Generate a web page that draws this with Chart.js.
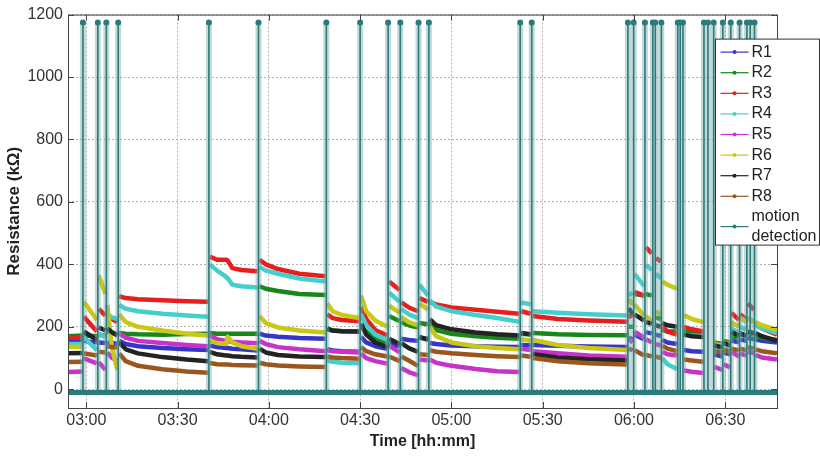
<!DOCTYPE html>
<html>
<head>
<meta charset="utf-8">
<script src="https://cdn.jsdelivr.net/npm/chart.js@4.4.1/dist/chart.umd.min.js"></script>
<style>
  html, body { margin: 0; padding: 0; background: #fff; }
  #wrap { width: 820px; height: 456px; }
</style>
</head>
<body>
<div id="wrap"><canvas id="chart" width="820" height="456"></canvas></div>
<script>
// time in minutes after midnight; each segment ends with a gap point (null) at a motion event
const times = [
  174, 178.6, 178.9,
  179.2, 183.5, 183.8,
  184.1, 186.3, 186.6,
  186.9, 188.5, 190.2, 190.5,
  190.8, 193, 197, 205, 213, 220, 220.3,
  220.6, 223, 226, 226.5, 228, 231, 236.3, 236.6,
  236.9, 239, 243, 250, 258.6, 258.9,
  259.2, 261, 264, 269.7, 270,
  270.3, 272, 275, 278.9, 279.2,
  279.5, 283, 283.2,
  283.5, 286, 289, 289.2,
  289.5, 292.3, 292.6,
  292.9, 295, 300, 308, 315, 322.3, 322.6,
  322.9, 326.1, 326.4,
  326.7, 335, 345, 357.7, 358,
  358.3, 359.6, 359.9,
  360.2, 363.3, 363.6,
  363.9, 365.9, 366.2,
  367.2, 368.8, 369,
  369.3, 371, 374.1, 374.4,
  376.4, 379, 382.7, 383,
  386.4, 389, 389.2,
  389.4, 391.6, 391.8,
  392, 394.5, 394.7,
  394.9, 396.9, 397.1,
  397.4, 399.4, 399.6,
  399.9, 402, 407
];

const R1 = [
  153, 152, null, 155, 150, null, 150, 148, null, 150, 148, 146, null,
  155, 145, 138, 132, 128, 126, null,
  140, 135, 132, 132, 130, 128, 124, null,
  178, 172, 168, 164, 162, null,
  128, 124, 122, 120, null,
  168, 150, 138, 130, null,
  145, 138, null, 162, 158, 155, null, 165, 162, null,
  148, 145, 140, 138, 136, 135, null,
  142, 140, null, 142, 139, 137, 135, null,
  165, 160, null, 175, 160, null, 183, 178, null, 175, 170, null,
  158, 150, 145, null, 126, 122, 120, null,
  112, 105, null, 118, 112, null, 156, 150, null, 160, 155, null, 165, 160, null,
  160, 155, 150
];
const R2 = [
  170, 172, null, 172, 170, null, 175, 172, null, 185, 180, 178, null,
  180, 178, 176, 175, 177, 178, null,
  180, 178, 178, 178, 178, 178, 178, null,
  330, 322, 315, 305, 302, null,
  192, 188, 186, 185, null,
  200, 185, 165, 150, null,
  235, 218, null, 215, 205, 198, null, 212, 208, null,
  210, 190, 178, 170, 165, 162, null,
  178, 175, null, 180, 176, 174, 173, null,
  200, 200, null, 305, 300, null, 305, 300, null, 230, 225, null,
  190, 185, 185, null, 185, 182, 180, null,
  150, 145, null, 155, 150, null, 170, 165, null, 175, 170, null, 180, 175, null,
  170, 165, 158
];
const R3 = [
  165, 165, null, 232, 185, null, 258, 236, null, 240, 225, 215, null,
  298, 292, 288, 285, 282, 280, null,
  425, 415, 415, 412, 388, 382, 378, null,
  415, 400, 385, 370, 362, null,
  240, 228, 222, 218, null,
  265, 225, 190, 172, null,
  345, 318, null, 278, 262, 250, null, 292, 280, null,
  280, 272, 262, 255, 248, 242, null,
  250, 242, null, 235, 225, 220, 216, null,
  230, 240, null, 312, 300, null, 455, 435, null, 420, 410, null,
  200, 185, 175, null, 200, 192, 185, null,
  135, 125, null, 140, 130, null, 245, 222, null, 240, 225, null, 275, 255, null,
  215, 195, 175
];
const R4 = [
  145, 145, null, 167, 125, null, 178, 167, null, 240, 230, 225, null,
  270, 258, 250, 242, 236, 232, null,
  400, 380, 360, 355, 335, 330, 326, null,
  392, 380, 370, 355, 345, null,
  92, 88, 85, 83, null,
  240, 205, 175, 158, null,
  310, 280, null, 258, 240, 228, null, 335, 300, null,
  285, 265, 250, 238, 228, 216, null,
  278, 272, null, 250, 245, 240, 236, null,
  300, 310, null, 370, 330, null, 398, 382, null, 370, 355, null,
  100, 80, 65, null, 175, 172, 170, null,
  130, 125, null, 140, 135, null, 195, 180, null, 200, 190, null, 230, 215, null,
  205, 195, 180
];
const R5 = [
  55, 57, null, 99, 83, null, 87, 62, null, 118, 100, 92, null,
  178, 165, 155, 148, 142, 138, null,
  172, 160, 155, 154, 152, 150, 147, null,
  155, 145, 135, 128, 122, null,
  125, 122, 120, 118, null,
  115, 100, 90, 82, null,
  140, 118, null, 68, 55, 45, null, 95, 92, null,
  95, 85, 75, 65, 58, 55, null,
  130, 126, null, 122, 115, 108, 104, null,
  160, 150, null, 185, 165, null, 160, 150, null, 145, 140, null,
  120, 112, 108, null, 60, 56, 52, null,
  72, 62, null, 80, 70, null, 120, 105, null, 115, 108, null, 120, 115, null,
  110, 102, 95
];
const R6 = [
  135, 136, null, 280, 222, null, 365, 305, null, 270, 130, 62, null,
  240, 215, 200, 188, 178, 172, null,
  155, 148, 145, 168, 150, 138, 130, null,
  235, 212, 198, 188, 182, null,
  275, 250, 238, 228, null,
  300, 250, 220, 200, null,
  268, 245, null, 232, 215, 205, null, 275, 255, null,
  200, 170, 150, 138, 132, 128, null,
  160, 155, null, 158, 142, 132, 126, null,
  290, 270, null, 272, 235, null, 235, 215, null, 250, 240, null,
  345, 335, 322, null, 238, 225, 215, null,
  145, 140, null, 150, 145, null, 215, 200, null, 230, 215, null, 225, 215, null,
  215, 205, 190
];
const R7 = [
  115, 116, null, 185, 158, null, 198, 188, null, 195, 182, 172, null,
  150, 128, 115, 103, 95, 90, null,
  120, 112, 108, 108, 106, 104, 102, null,
  130, 118, 110, 105, 103, null,
  195, 188, 186, 185, null,
  210, 175, 150, 135, null,
  162, 145, null, 148, 132, 120, null, 168, 158, null,
  225, 205, 192, 182, 176, 172, null,
  180, 176, null, 112, 102, 96, 92, null,
  260, 240, null, 240, 220, null, 215, 210, null, 205, 200, null,
  212, 205, 200, null, 175, 170, 167, null,
  140, 135, null, 150, 140, null, 183, 172, null, 180, 172, null, 185, 180, null,
  180, 170, 155
];
const R8 = [
  87, 88, null, 115, 108, null, 120, 118, null, 138, 135, 134, null,
  115, 90, 75, 64, 57, 53, null,
  84, 80, 79, 79, 78, 77, 76, null,
  85, 80, 76, 73, 71, null,
  105, 102, 100, 98, null,
  135, 122, 112, 105, null,
  105, 90, null, 105, 92, 75, null, 112, 110, null,
  125, 120, 115, 110, 106, 103, null,
  108, 104, null, 100, 90, 83, 79, null,
  130, 125, null, 125, 108, null, 110, 105, null, 105, 100, null,
  140, 130, 122, null, 95, 92, 88, null,
  122, 118, null, 125, 120, null, 130, 124, null, 130, 125, null, 135, 130, null,
  128, 122, 115
];

// motion detection events (minutes) and the two levels the detector switches between
const motionEvents = [
  178.9, 183.8, 186.6, 190.5, 220.3, 236.6, 258.9, 270.0, 279.2, 283.2, 289.2, 292.6,
  322.6, 326.4, 358.0, 359.9, 363.6, 366.2, 367.0, 369.0, 374.4, 375.2, 376.1,
  383.0, 384.3, 386.2, 389.2, 391.8, 394.7, 397.1, 398.2, 399.6
];
const motionLow = -10;
const motionHigh = 1175;

const seriesNames = ["R1", "R2", "R3", "R4", "R5", "R6", "R7", "R8"];
const seriesColors = ["#3535c8", "#17871a", "#e61e1e", "#45cfcc", "#c832c8", "#c9c814", "#232323", "#9a561c"];
const xTicks = [180, 210, 240, 270, 300, 330, 360, 390];
const yTicks = [0, 200, 400, 600, 800, 1000, 1200];

const FONT = "'Liberation Sans', Arial, Helvetica, sans-serif";
const teal = "#2b7b7b";

const hhmm = (v) => String(Math.floor(v / 60)).padStart(2, "0") + ":" + String(v % 60).padStart(2, "0");

const seriesData = [R1, R2, R3, R4, R5, R6, R7, R8];
const datasets = seriesData.map((values, i) => ({
  label: seriesNames[i],
  data: times.map((t, k) => ({ x: t, y: values[k] })),
  borderColor: seriesColors[i],
  borderWidth: 4.5,
  pointRadius: 0,
  spanGaps: false,
  order: 10 - i,
}));

const motionLine = [{ x: 174, y: motionLow }];
motionEvents.forEach((t) => motionLine.push({ x: t, y: motionLow }, { x: t, y: motionHigh }, { x: t, y: motionLow }));
motionLine.push({ x: 407, y: motionLow });

datasets.push({
  label: "motion detection",
  data: motionLine,
  borderColor: teal,
  backgroundColor: teal,
  borderWidth: 1.6,
  pointRadius: (ctx) => (ctx.raw && ctx.raw.y === motionHigh ? 2.2 : 0),
  order: 0,
});
datasets.push({
  label: "band",
  data: motionEvents.flatMap((t) => [{ x: t, y: motionLow }, { x: t, y: motionHigh }, { x: t, y: null }]),
  borderColor: "rgba(120,168,168,0.45)",
  borderWidth: 6,
  pointRadius: 0,
  spanGaps: false,
  order: 1,
});
datasets.push({
  label: "base",
  data: [{ x: 174, y: motionLow }, { x: 407, y: motionLow }],
  borderColor: teal,
  borderWidth: 5,
  pointRadius: 0,
  order: 0,
});

const frame = {
  id: "frame",
  afterDraw(chart) {
    const { ctx, chartArea: a, scales } = chart;
    ctx.save();
    ctx.strokeStyle = "#444";
    ctx.lineWidth = 1;
    ctx.strokeRect(a.left + 0.5, a.top + 0.5, a.right - a.left, a.bottom - a.top);
    ctx.beginPath();
    xTicks.forEach((v) => {
      const x = Math.round(scales.x.getPixelForValue(v)) + 0.5;
      ctx.moveTo(x, a.bottom); ctx.lineTo(x, a.bottom - 6);
      ctx.moveTo(x, a.top); ctx.lineTo(x, a.top + 6);
    });
    yTicks.forEach((v) => {
      const y = Math.round(scales.y.getPixelForValue(v)) + 0.5;
      ctx.moveTo(a.left, y); ctx.lineTo(a.left + 6, y);
      ctx.moveTo(a.right, y); ctx.lineTo(a.right - 6, y);
    });
    ctx.stroke();

    // legend box, top right, overlapping the plot like the original
    const bx = a.right - 61.5, by = a.top + 24.5, bw = 104, bh = 206;
    ctx.fillStyle = "#fff";
    ctx.fillRect(bx, by, bw, bh);
    ctx.strokeStyle = "#333";
    ctx.strokeRect(bx, by, bw, bh);
    ctx.font = "16px " + FONT;
    ctx.textBaseline = "middle";
    const rows = seriesNames.map((name, i) => ({ name, color: seriesColors[i], y: by + 13 + i * 20.6 }));
    rows.push({ name: "motion", color: teal, y: by + 187.5, text2: "detection" });
    rows.forEach((r) => {
      const ly = r.y;
      ctx.strokeStyle = r.color;
      ctx.lineWidth = 1.2;
      ctx.beginPath();
      ctx.moveTo(bx + 5, ly); ctx.lineTo(bx + 33, ly);
      ctx.stroke();
      ctx.fillStyle = r.color;
      ctx.beginPath();
      ctx.arc(bx + 19, ly, 2, 0, Math.PI * 2);
      ctx.fill();
      ctx.fillStyle = "#222";
      if (r.text2) {
        ctx.fillText(r.name, bx + 36, ly - 10);
        ctx.fillText(r.text2, bx + 36, ly + 10);
      } else {
        ctx.fillText(r.name, bx + 36, ly);
      }
    });
    ctx.restore();
  },
};

Chart.defaults.font.family = FONT;

new Chart(document.getElementById("chart"), {
  type: "line",
  data: { datasets },
  options: {
    responsive: false,
    animation: false,
    parsing: false,
    layout: { padding: { top: 13, right: 43, left: 0, bottom: 0 } },
    plugins: { legend: { display: false }, tooltip: { enabled: false } },
    elements: { line: { borderJoinStyle: "round", tension: 0 } },
    scales: {
      x: {
        type: "linear",
        min: 174,
        max: 407,
        afterBuildTicks: (scale) => { scale.ticks = xTicks.map((v) => ({ value: v })); },
        afterFit: (scale) => { scale.height = 48; },
        ticks: { callback: (v) => hhmm(v), color: "#333", font: { size: 16 }, padding: 3, maxRotation: 0, autoSkip: false },
        grid: { color: "#b0b0b0", drawTicks: false },
        border: { display: false, dash: [2, 2] },
        title: { display: true, text: "Time [hh:mm]", color: "#222", font: { size: 16, weight: "bold" }, padding: { top: 0, bottom: 5 } },
      },
      y: {
        min: -60,
        max: 1200,
        afterBuildTicks: (scale) => { scale.ticks = yTicks.map((v) => ({ value: v })); },
        afterFit: (scale) => { scale.width = 68; },
        ticks: { callback: (v) => String(v), color: "#333", font: { size: 16 }, padding: 5 },
        grid: { color: "#b0b0b0", drawTicks: false },
        border: { display: false, dash: [2, 2] },
        title: { display: true, text: "Resistance (kΩ)", color: "#222", font: { size: 17, weight: "bold" }, padding: { top: 4, bottom: 0 } },
      },
    },
  },
  plugins: [frame],
});
</script>
</body>
</html>
